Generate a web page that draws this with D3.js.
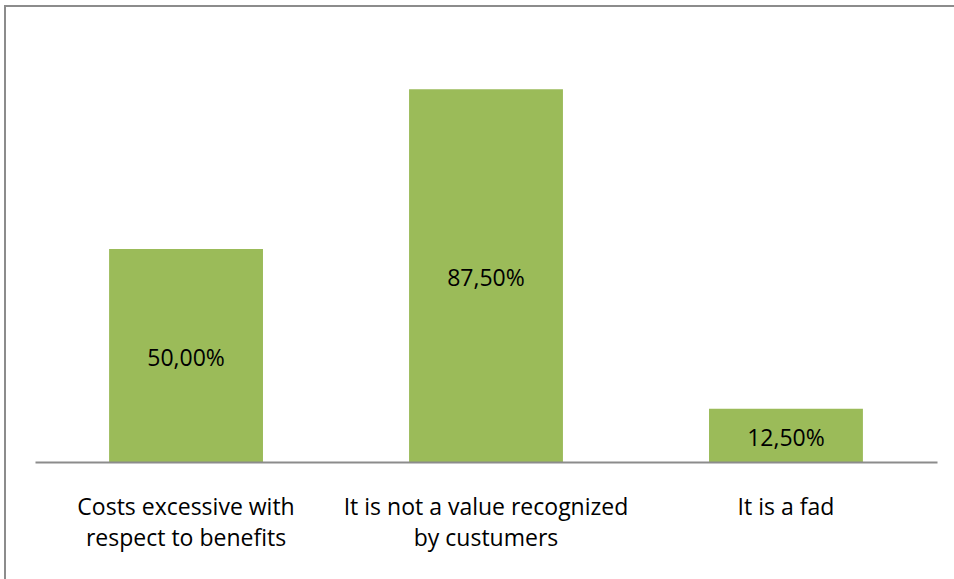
<!DOCTYPE html>
<html>
<head>
<meta charset="utf-8">
<script src="https://cdn.jsdelivr.net/npm/d3@7"></script>
<style>
  html, body { margin: 0; padding: 0; background: #fff; }
  svg { display: block; }
  text { font-family: "Open Sans", sans-serif; fill: #000; }
</style>
</head>
<body>
<svg id="chart" width="954" height="579"></svg>
<script>
// Reasons for not adopting — share of respondents
const categories = [
  ["Costs excessive with", "respect to benefits"],
  ["It is not a value recognized", "by custumers"],
  ["It is a fad"]
];
const values = [50.0, 87.5, 12.5];
const valueLabels = ["50,00%", "87,50%", "12,50%"];

const W = 954, H = 579;
const plot = { left: 35, right: 937, top: 36, bottom: 462 };

const svg = d3.select("#chart");

// outer chart frame (extends beyond the visible window on right and bottom)
svg.append("rect")
  .attr("x", 5).attr("y", 6)
  .attr("width", W + 10).attr("height", H + 10)
  .attr("fill", "none")
  .attr("stroke", "#8c8c8c")
  .attr("stroke-width", 2);

const x = d3.scaleBand()
  .domain(d3.range(categories.length))
  .range([plot.left, plot.right])
  .paddingInner(0.487)
  .paddingOuter(0.247);

const y = d3.scaleLinear()
  .domain([0, 100])
  .range([plot.bottom, plot.top]);

// bars
svg.append("g").selectAll("rect")
  .data(values)
  .join("rect")
  .attr("x", (d, i) => x(i))
  .attr("y", d => y(d))
  .attr("width", x.bandwidth())
  .attr("height", d => y(0) - y(d))
  .attr("fill", "#9bbb59");

// value labels in the middle of each bar
svg.append("g").selectAll("text")
  .data(values)
  .join("text")
  .attr("x", (d, i) => x(i) + x.bandwidth() / 2)
  .attr("y", d => (y(d) + y(0)) / 2)
  .attr("dy", "0.47em")
  .attr("text-anchor", "middle")
  .attr("font-size", 23)
  .text((d, i) => valueLabels[i]);

// category axis
const axis = svg.append("g")
  .attr("transform", `translate(0,${plot.bottom})`)
  .call(d3.axisBottom(x).tickSize(0).tickFormat(""));
axis.select(".domain")
  .attr("stroke", "#8c8c8c")
  .attr("stroke-width", 2);

const catG = svg.append("g");
categories.forEach((lines, i) => {
  const t = catG.append("text")
    .attr("x", x(i) + x.bandwidth() / 2)
    .attr("y", 515)
    .attr("text-anchor", "middle")
    .attr("font-size", 23);
  lines.forEach((ln, j) => {
    t.append("tspan")
      .attr("x", x(i) + x.bandwidth() / 2)
      .attr("dy", j === 0 ? 0 : 31)
      .text(ln);
  });
});
</script>
</body>
</html>
